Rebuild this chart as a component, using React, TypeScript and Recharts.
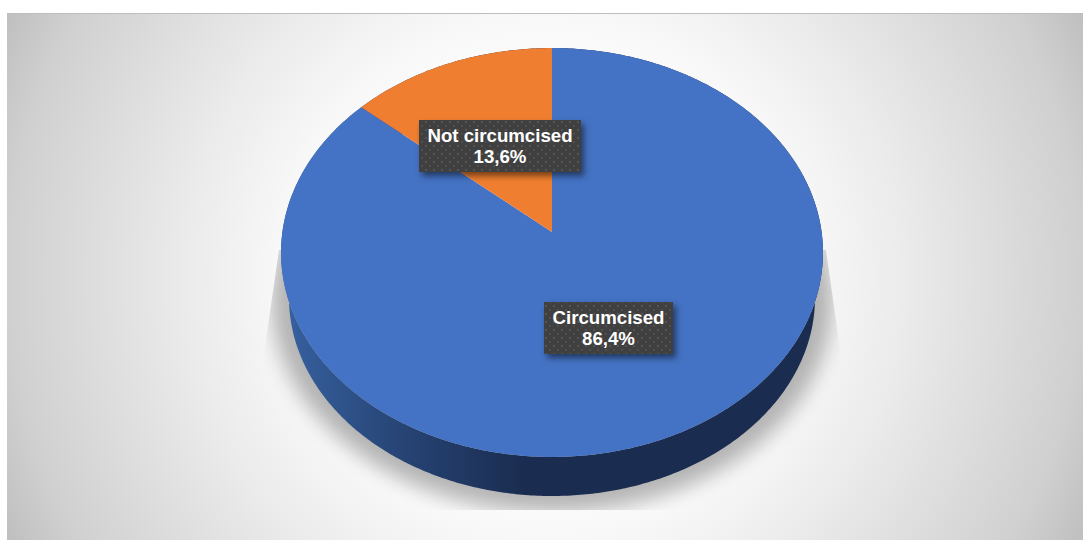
import React from "react";
import { PieChart, Pie, Cell } from "recharts";

const categories = ["Circumcised", "Not circumcised"];
const shares = [86.4, 13.6];
const sliceColors = ["#4472c4", "#f07e30"];

const chartData = categories.map((name, i) => ({ name, value: shares[i] }));

// Tilted disc: unit circle to screen, apex sits above the centre of the outline
const CX = 552;
const CY = 232;
const FACE_A = 269.6;
const FACE_B = 202.4;
const TILT = -0.1002;
// underside outline of the disc
const BASE = { cx: 552, cy: 297.6, rx: 263, ry: 198.4 };
// label box centres, per slice
const labelCentres = [
  { x: 608.5, y: 328, w: 129 },
  { x: 500, y: 146, w: 162 },
];
const LABEL_H = 52;

const RAD = Math.PI / 180;

function facePoint(deg: number) {
  const u = Math.cos(deg * RAD);
  const v = -Math.sin(deg * RAD);
  const d = 1 + TILT * v;
  return [CX + (FACE_A * u) / d, CY + (FACE_B * v) / d];
}

function basePoint(deg: number) {
  return [
    BASE.cx + BASE.rx * Math.cos(deg * RAD),
    BASE.cy - BASE.ry * Math.sin(deg * RAD),
  ];
}

function arc(start: number, end: number, fn: (d: number) => number[]) {
  const steps = Math.max(2, Math.ceil(Math.abs(end - start) * 1.5));
  const pts: number[][] = [];
  for (let i = 0; i <= steps; i++) pts.push(fn(start + ((end - start) * i) / steps));
  return pts;
}

const toPath = (pts: number[][]) =>
  "M" + pts.map((p) => `${p[0].toFixed(2)},${p[1].toFixed(2)}`).join("L") + "Z";

function FaceSlice(props: any) {
  const pts = [[CX, CY], ...arc(props.startAngle, props.endAngle, facePoint)];
  return <path d={toPath(pts)} fill={props.fill} stroke="none" />;
}

function WallSlice(props: any) {
  const top = arc(props.startAngle, props.endAngle, facePoint);
  const bottom = arc(props.endAngle, props.startAngle, basePoint);
  return <path d={toPath([...top, ...bottom])} fill="url(#wallShade)" stroke="none" />;
}

function SliceLabel(props: any) {
  const box = labelCentres[props.index];
  const pct = (props.percent * 100).toFixed(1).replace(".", ",");
  return (
    <g>
      <rect
        x={box.x - box.w / 2}
        y={box.y - LABEL_H / 2}
        width={box.w}
        height={LABEL_H}
        fill="#404040"
        filter="url(#boxShadow)"
      />
      <rect
        x={box.x - box.w / 2}
        y={box.y - LABEL_H / 2}
        width={box.w}
        height={LABEL_H}
        fill="url(#boxDots)"
      />
      <text
        x={box.x}
        y={box.y - 4}
        textAnchor="middle"
        fill="#fff"
        fontFamily="Liberation Sans"
        fontWeight="bold"
        fontSize={18.67}
      >
        {props.name}
      </text>
      <text
        x={box.x}
        y={box.y + 17}
        textAnchor="middle"
        fill="#fff"
        fontFamily="Liberation Sans"
        fontWeight="bold"
        fontSize={18.67}
      >
        {pct}%
      </text>
    </g>
  );
}

export default function App() {
  return (
    <div style={{ width: 1083, height: 540 }}>
      <style>{"body{margin:0}"}</style>
      <PieChart width={1083} height={540} margin={{ top: 0, right: 0, bottom: 0, left: 0 }}>
        <defs>
          <radialGradient id="pageShade" gradientUnits="userSpaceOnUse" cx={545} cy={276} r={610}>
            <stop offset="0" stopColor="#ffffff" />
            <stop offset="0.33" stopColor="#fcfcfc" />
            <stop offset="0.43" stopColor="#f8f8f8" />
            <stop offset="0.59" stopColor="#ebebeb" />
            <stop offset="0.88" stopColor="#d0d0d0" />
            <stop offset="1" stopColor="#bcbcbc" />
          </radialGradient>
          <linearGradient id="wallShade" gradientUnits="userSpaceOnUse" x1={287} y1={0} x2={525} y2={0}>
            <stop offset="0" stopColor="#36609f" />
            <stop offset="0.5" stopColor="#264373" />
            <stop offset="1" stopColor="#1a2c50" />
          </linearGradient>
          <pattern id="boxDots" patternUnits="userSpaceOnUse" width={8} height={8}>
            <rect x={1} y={1} width={2} height={2} fill="#545454" />
            <rect x={5} y={5} width={2} height={2} fill="#4e4e4e" />
          </pattern>
          <filter id="boxShadow" x="-15%" y="-30%" width="135%" height="175%">
            <feDropShadow dx={3} dy={4} stdDeviation={3} floodColor="#000" floodOpacity={0.5} />
          </filter>
          <filter id="floorBlur" x="-10%" y="-10%" width="120%" height="120%">
            <feGaussianBlur stdDeviation={10} />
          </filter>
          <clipPath id="floorClip">
            <path d="M279,250L263,360L263,510L842,510L842,363L826,250Z" />
          </clipPath>
        </defs>
        <rect x={7} y={13} width={1076} height={527} fill="url(#pageShade)" />
        <rect x={7} y={13} width={1076} height={1} fill="#bdbdbd" />
        <g clipPath="url(#floorClip)">
          <ellipse cx={552} cy={300} rx={280} ry={212} fill="#000" opacity={0.28} filter="url(#floorBlur)" />
        </g>
        <Pie
          data={chartData}
          dataKey="value"
          nameKey="name"
          cx={CX}
          cy={CY}
          outerRadius={FACE_B}
          startAngle={90}
          endAngle={-270}
          stroke="none"
          isAnimationActive={false}
          shape={WallSlice}
        />
        <Pie
          data={chartData}
          dataKey="value"
          nameKey="name"
          cx={CX}
          cy={CY}
          outerRadius={FACE_B}
          startAngle={90}
          endAngle={-270}
          stroke="none"
          isAnimationActive={false}
          shape={FaceSlice}
          label={SliceLabel}
          labelLine={false}
        >
          {chartData.map((entry, i) => (
            <Cell key={entry.name} fill={sliceColors[i]} />
          ))}
        </Pie>
      </PieChart>
    </div>
  );
}
